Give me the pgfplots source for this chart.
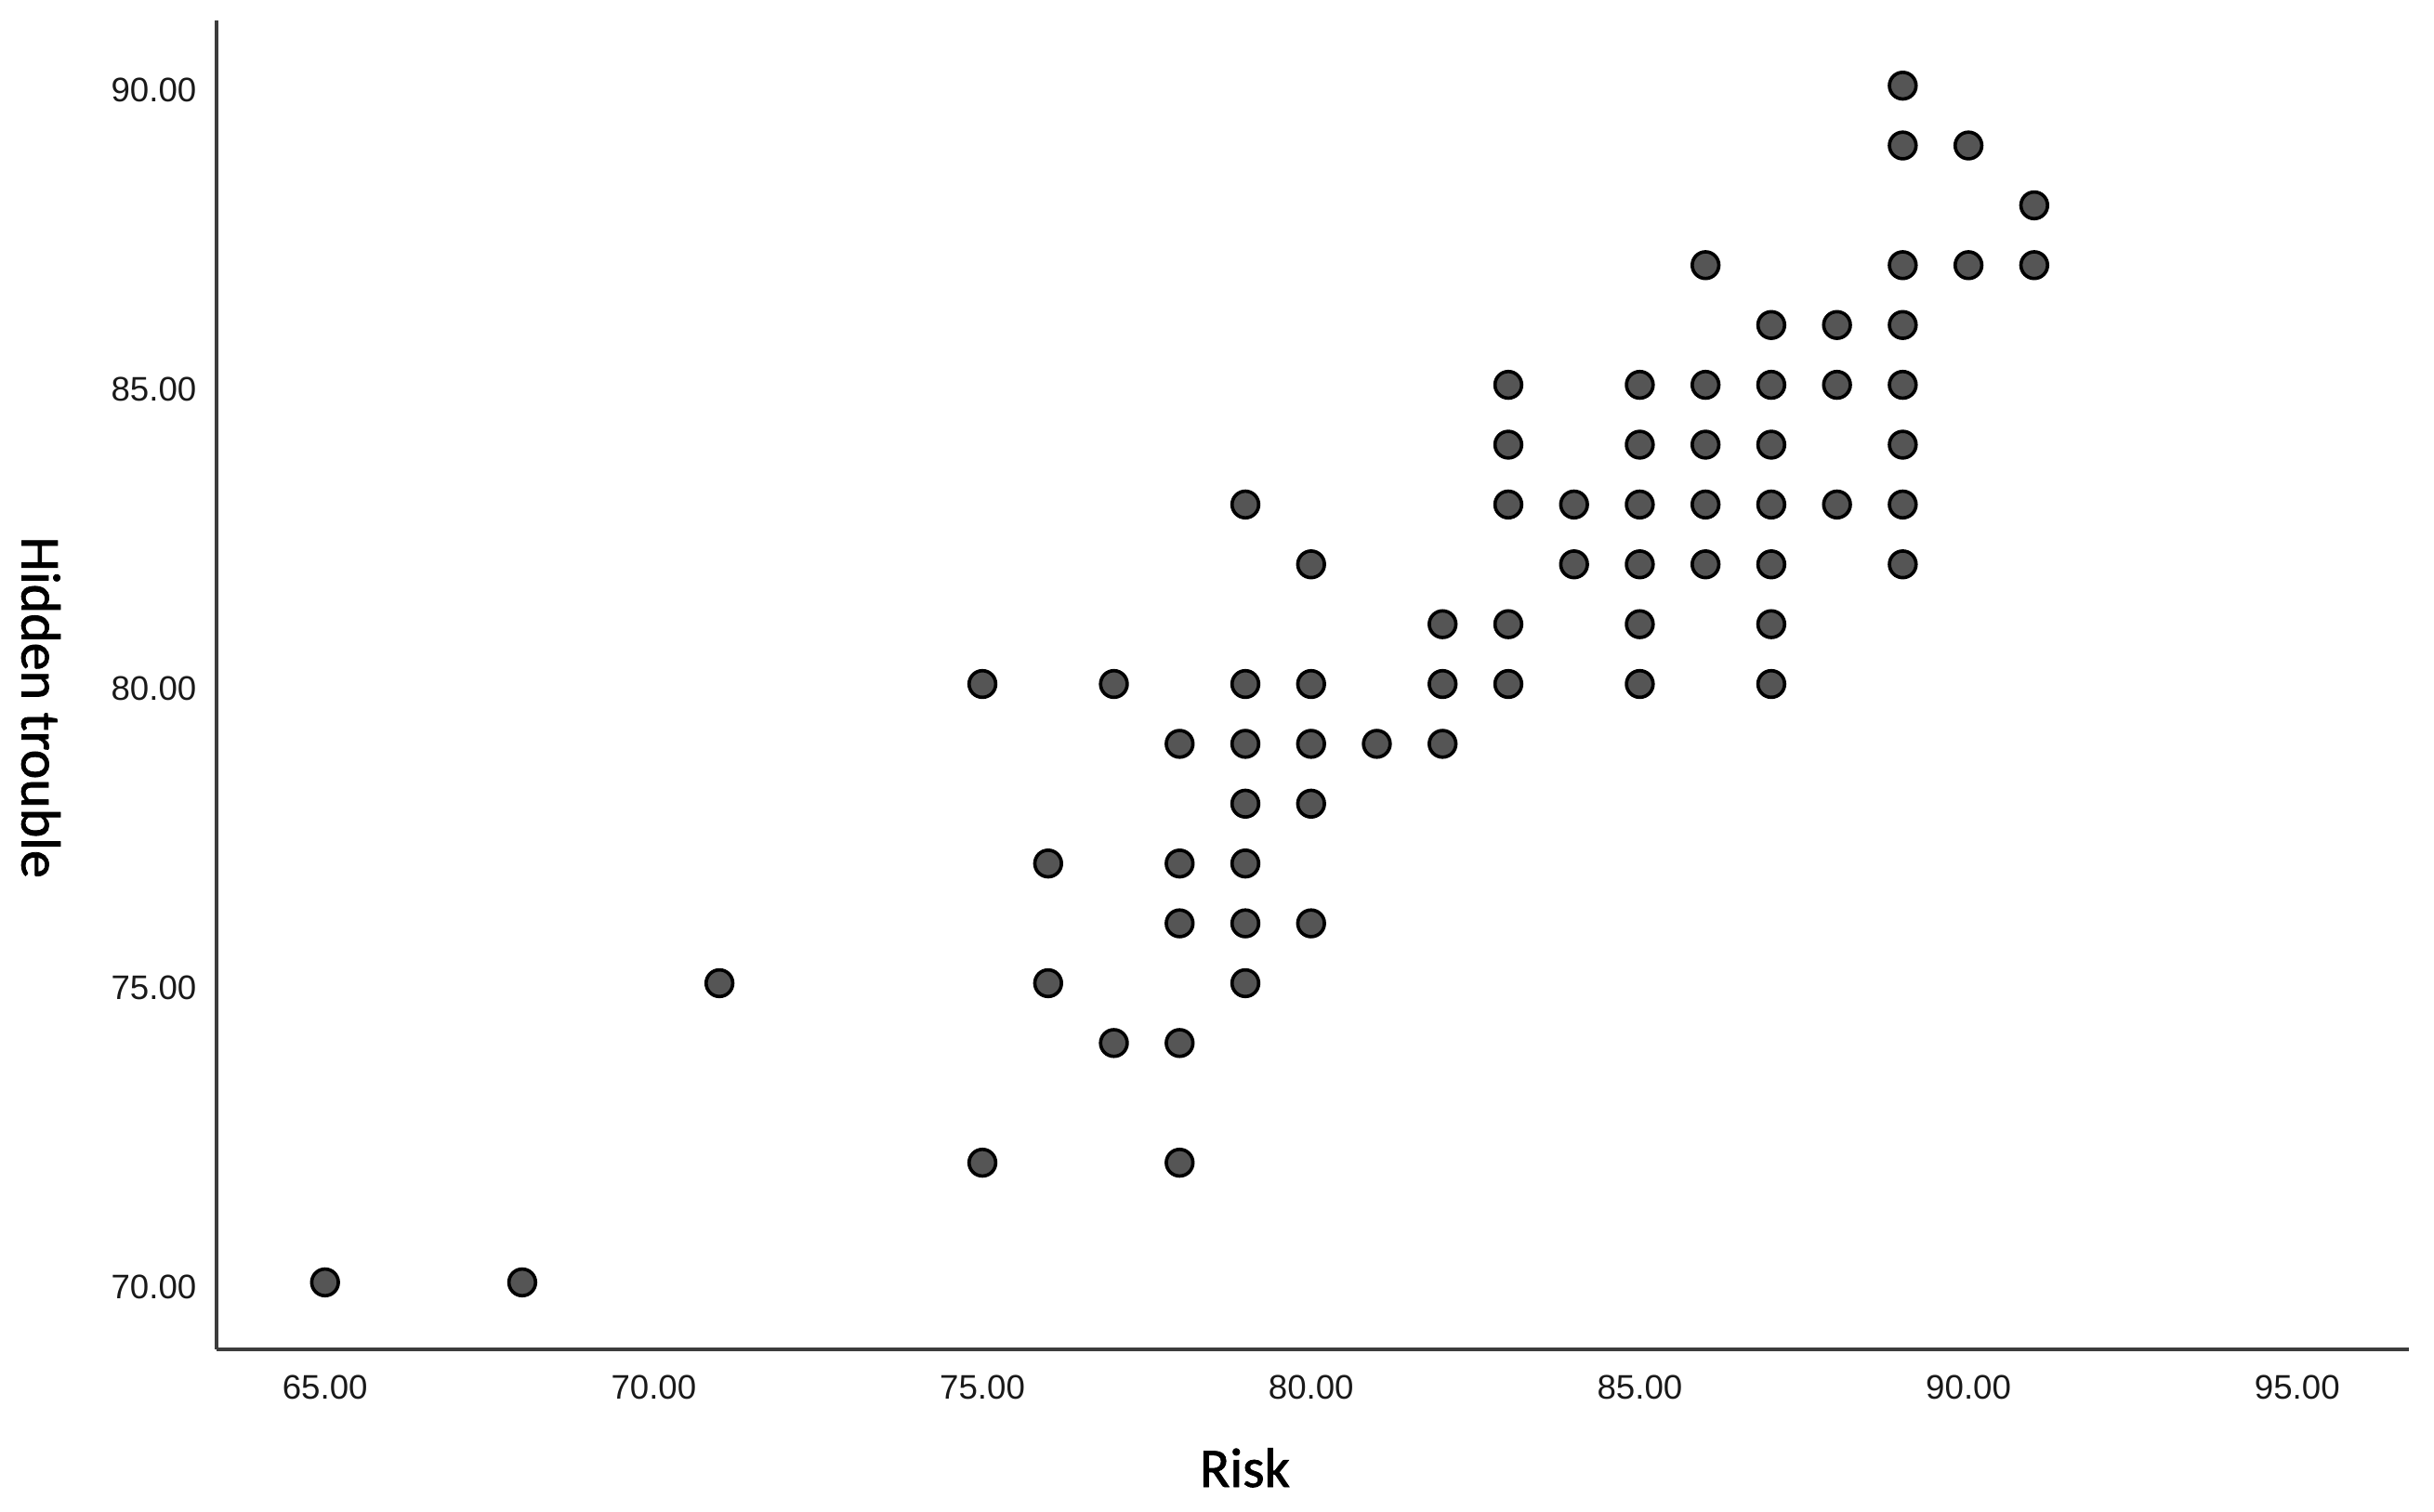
\documentclass[border=0pt]{standalone}
\usepackage{fontspec}
\setmainfont{Liberation Sans}
\newfontfamily\labelfont[FakeBold=1.3]{Carlito}
\usepackage{pgfplots}
\pgfplotsset{compat=1.18}
\definecolor{markfill}{RGB}{85,85,85}
\definecolor{axgray}{RGB}{60,60,60}
\begin{document}
\begin{tikzpicture}
\useasboundingbox (-69.9pt,-52.2pt) rectangle (715.8pt,435.6pt);
\begin{axis}[
  scale only axis,
  width=707.7pt, height=429pt,
  xmin=63.35, xmax=96.70, ymin=68.88, ymax=91.09,
  axis x line*=bottom, axis y line*=left,
  axis line style={-, draw=axgray, line width=1.1pt},
  xtick={65,70,...,95}, ytick={70,75,...,90},
  major tick length=0pt,
  tick style={draw=none},
  /pgf/number format/assume math mode=true,
  xticklabel={\pgfmathprintnumber[fixed,fixed zerofill,precision=2]{\tick}},
  yticklabel={\pgfmathprintnumber[fixed,fixed zerofill,precision=2]{\tick}},
  ticklabel style={font=\fontsize{11}{13}\selectfont, text=black!90},
  xticklabel style={anchor=base, yshift=-15.9pt, inner sep=0pt},
  yticklabel style={anchor=east, xshift=-6.3pt, yshift=-1.5pt, inner sep=0pt},
  xlabel={Risk},
  ylabel={Hidden trouble},
  xlabel style={font=\labelfont\fontsize{18}{20}\selectfont, at={(axis description cs:0.469,-0.1035)}, anchor=base, inner sep=0pt},
  ylabel style={font=\labelfont\fontsize{18}{20}\selectfont, at={(axis description cs:-0.0801,0.483)}, anchor=center, rotate=180, inner sep=0pt},
  clip=false,
]
\addplot[only marks, mark=*, mark size=4.3pt, mark options={fill=markfill, draw=black, line width=1.1pt}] coordinates {
(65,70) (68,70) (71,75)
(75,80) (75,72)
(76,77) (76,75)
(77,80) (77,74)
(78,79) (78,77) (78,76) (78,74) (78,72)
(79,83) (79,80) (79,79) (79,78) (79,77) (79,76) (79,75)
(80,82) (80,80) (80,79) (80,78) (80,76)
(81,79)
(82,81) (82,80) (82,79)
(83,85) (83,84) (83,83) (83,81) (83,80)
(84,83) (84,82)
(85,85) (85,84) (85,83) (85,82) (85,81) (85,80)
(86,87) (86,85) (86,84) (86,83) (86,82)
(87,86) (87,85) (87,84) (87,83) (87,82) (87,81) (87,80)
(88,86) (88,85) (88,83)
(89,90) (89,89) (89,87) (89,86) (89,85) (89,84) (89,83) (89,82)
(90,89) (90,87)
(91,88) (91,87)
};
\end{axis}
\end{tikzpicture}
\end{document}
